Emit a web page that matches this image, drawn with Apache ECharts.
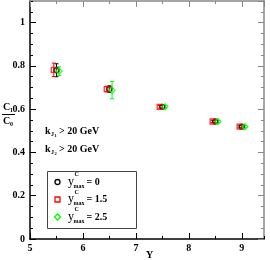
<!DOCTYPE html>
<html><head><meta charset="utf-8">
<script src="https://cdn.jsdelivr.net/npm/echarts@6/dist/echarts.min.js"></script>
<style>html,body{margin:0;padding:0;background:#fff}#c{width:270px;height:260px}</style>
</head><body><div id="c"></div>
<script>
// Data
const seriesNames = ['ymax0', 'ymax15', 'ymax25'];
const Yblack = [5.5, 6.5, 7.5, 8.5, 9.0];
const Vblack = [0.780, 0.693, 0.611, 0.543, 0.519];
const Eblack = [0.030, 0.015, 0.006, 0.005, 0.005];
const Yred = [5.45, 6.45, 7.45, 8.45, 8.96];
const Vred = [0.782, 0.693, 0.611, 0.543, 0.519];
const Ered = [0.031, 0.013, 0.006, 0.005, 0.005];
const Ygreen = [5.55, 6.55, 7.55, 8.55, 9.06];
const Vgreen = [0.776, 0.688, 0.611, 0.543, 0.519];
const Egreen = [0.020, 0.040, 0.006, 0.005, 0.005];
const legendVals = ['0', '1.5', '2.5'];
const xMin = 5, xMax = 9.42, yMin = 0, yMax = 1.1;

const F = 'Liberation Serif';
const chart = echarts.init(document.getElementById('c'), null, {renderer: 'canvas'});

function pts(X, V) { return X.map((x, i) => [x, V[i]]); }
function errs(X, V, E) { return X.map((x, i) => [x, V[i], E[i]]); }

function errSeries(X, V, E, color) {
  return {
    type: 'custom', xAxisIndex: 0, yAxisIndex: 0, silent: true, z: 2,
    data: errs(X, V, E),
    renderItem: function (params, api) {
      const x = api.value(0), y = api.value(1), e = api.value(2);
      const p1 = api.coord([x, y + e]), p2 = api.coord([x, y - e]);
      const st = {stroke: color, lineWidth: 1};
      const w = 2;
      return {type: 'group', children: [
        {type: 'line', shape: {x1: p1[0], y1: p1[1], x2: p2[0], y2: p2[1]}, style: st},
        {type: 'line', shape: {x1: p1[0] - w, y1: p1[1], x2: p1[0] + w, y2: p1[1]}, style: st},
        {type: 'line', shape: {x1: p2[0] - w, y1: p2[1], x2: p2[0] + w, y2: p2[1]}, style: st}
      ]};
    }
  };
}
function scat(name, X, V, color, symbol, size) {
  return {
    name: name, type: 'scatter', xAxisIndex: 0, yAxisIndex: 0, z: 3,
    symbol: symbol, symbolSize: size,
    itemStyle: {color: 'rgba(255,255,255,0)', borderColor: color, borderWidth: 1.3},
    data: pts(X, V)
  };
}

function xAx(pos, interval, len, color, showLabel, showLine) {
  return {
    type: 'value', position: pos, min: xMin, max: xMax, interval: interval,
    axisLine: {show: showLine, onZero: false, lineStyle: {color: color, width: 1.5}},
    axisTick: {show: true, inside: true, length: len, lineStyle: {color: color, width: 1}},
    axisLabel: {show: showLabel, showMaxLabel: false, color: '#000', fontFamily: F, fontWeight: 'bold', fontSize: 10, margin: 4},
    splitLine: {show: false}
  };
}
function yAx(pos, interval, len, color, showLabel, showLine) {
  return {
    type: 'value', position: pos, min: yMin, max: yMax, interval: interval,
    axisLine: {show: showLine, onZero: false, lineStyle: {color: color, width: 1.5}},
    axisTick: {show: true, inside: true, length: len, lineStyle: {color: color, width: 1}},
    axisLabel: {show: showLabel, showMaxLabel: false, color: '#000', fontFamily: F, fontWeight: 'bold', fontSize: 10, margin: 5},
    splitLine: {show: false}
  };
}

const txt = (x, y, t, size, extra) => Object.assign({type: 'text', x: x, y: y, z: 20, style: Object.assign({text: t, fontFamily: F, fontSize: size, fontWeight: 'bold', fill: '#000', textVerticalAlign: 'middle'}, extra || {})});

const graphic = [
  // y-axis title C1/C0
  txt(3, 107, 'C', 10), txt(10, 110, '1', 6),
  {type: 'line', shape: {x1: 2, y1: 114.5, x2: 15, y2: 114.5}, style: {stroke: '#000', lineWidth: 1}},
  txt(3, 121, 'C', 10), txt(10, 124, '0', 6),
  // x-axis title
  txt(146, 255, 'Y', 10),
  // annotations
  txt(45, 131, 'k', 10), txt(51, 134, 'J', 6), txt(54.5, 136, '1', 4.5), txt(59, 131, '> 20 GeV', 10),
  txt(45, 149, 'k', 10), txt(51, 152, 'J', 6), txt(54.5, 154, '2', 4.5), txt(59, 149, '> 20 GeV', 10),
  // legend box
  {type: 'rect', z: 10, shape: {x: 47.5, y: 171.5, width: 89, height: 57}, style: {fill: 'none', stroke: '#444', lineWidth: 1}}
];
const legendY = [182, 199.5, 217];
const legendColors = ['#000', '#ff0000', '#00ff00'];
const lx = 57.5;
graphic.push({type: 'circle', z: 20, shape: {cx: lx, cy: legendY[0], r: 2.5}, style: {fill: 'none', stroke: legendColors[0], lineWidth: 1.3}});
graphic.push({type: 'rect', z: 20, shape: {x: lx - 2.5, y: legendY[1] - 2.5, width: 5, height: 5}, style: {fill: 'none', stroke: legendColors[1], lineWidth: 1.3}});
graphic.push({type: 'polygon', z: 20, shape: {points: [[lx, legendY[2] - 3], [lx + 3, legendY[2]], [lx, legendY[2] + 3], [lx - 3, legendY[2]]]}, style: {fill: 'none', stroke: legendColors[2], lineWidth: 1.3}});
legendVals.forEach((v, i) => {
  const y = legendY[i];
  graphic.push(txt(68, y - 0.5, 'y', 12, {fontWeight: 'normal'}));
  graphic.push(txt(74.5, y - 7.5, 'C', 6));
  graphic.push(txt(73.5, y + 4, 'max', 6));
  graphic.push(txt(86.5, y, '= ' + v, 10));
});

chart.setOption({
  animation: false,
  backgroundColor: '#fff',
  grid: {left: 30, top: 1, right: 6, bottom: 21, show: false},
  graphic: graphic,
  xAxis: [
    xAx('bottom', 1, 6, '#000', true, true),
    xAx('bottom', 0.5, 3, '#000', false, false),
    xAx('top', 1, 6, '#888', false, true),
    xAx('top', 0.5, 3, '#888', false, false)
  ],
  yAxis: [
    yAx('left', 0.2, 6, '#000', true, true),
    yAx('left', 0.05, 3, '#000', false, false),
    yAx('right', 0.2, 6, '#888', false, true),
    yAx('right', 0.05, 3, '#888', false, false)
  ],
  series: [
    errSeries(Yblack, Vblack, Eblack, '#000'),
    errSeries(Yred, Vred, Ered, '#ff0000'),
    errSeries(Ygreen, Vgreen, Egreen, '#00ff00'),
    scat(seriesNames[0], Yblack, Vblack, '#000', 'circle', 5),
    scat(seriesNames[1], Yred, Vred, '#ff0000', 'rect', 5),
    scat(seriesNames[2], Ygreen, Vgreen, '#00ff00', 'diamond', 6)
  ]
});
</script></body></html>
